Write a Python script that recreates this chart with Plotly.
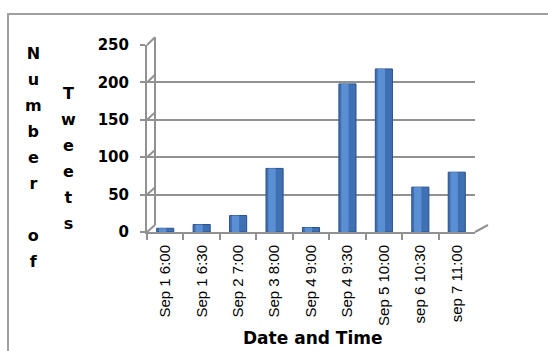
import plotly.graph_objects as go

categories = ["Sep 1 6:00", "Sep 1 6:30", "Sep 2 7:00", "Sep 3 8:00", "Sep 4 9:00",
              "Sep 4 9:30", "Sep 5 10:00", "sep 6 10:30", "sep 7 11:00"]
tweets = [5, 10, 22, 85, 6, 198, 218, 60, 80]
y_ticks = [0, 50, 100, 150, 200, 250]

W, H = 548, 351
def px(p):
    return p / W
def py(p):
    return 1 - p / H

GRID = "#919191"
fig = go.Figure()

fig.add_trace(go.Scatter(x=[None], y=[None], xaxis="x3", yaxis="y3",
                         showlegend=False, hoverinfo="skip"))
fig.add_trace(go.Scatter(x=categories, y=[None] * len(categories), xaxis="x", yaxis="y",
                         showlegend=False, hoverinfo="skip", mode="markers"))
fig.add_trace(go.Bar(x=categories, y=tweets, xaxis="x2", yaxis="y2",
                     marker=dict(color="#3f70b3", line=dict(color="#2b5089", width=1)),
                     width=0.47, showlegend=False))
fig.add_trace(go.Bar(x=categories, y=tweets, xaxis="x2", yaxis="y2",
                     marker=dict(color="#5b8fd3", line=dict(width=0)),
                     width=0.2, offset=-0.17, showlegend=False))

front_x = [147, 475]
front_y = [232, 45]
back_x = [155, 488]
back_y = [225, 37.3]

fig.update_layout(
    width=W, height=H,
    margin=dict(l=0, r=0, t=0, b=0, autoexpand=False),
    barmode="overlay",
    paper_bgcolor="white", plot_bgcolor="rgba(0,0,0,0)",
    xaxis=dict(domain=[px(front_x[0]), px(front_x[1])], type="category",
               range=[-0.5, 8.5], tickangle=-90, ticks="outside", ticklen=6,
               tickcolor=GRID, tickwidth=2, tickson="boundaries", automargin=False,
               showline=True, linecolor=GRID, linewidth=2, showgrid=False,
               tickfont=dict(family="Liberation Sans", size=15, color="black"),
               ticklabelstandoff=5, anchor="y"),
    yaxis=dict(domain=[py(front_y[0]), py(front_y[1])], range=[0, 250],
               tickvals=y_ticks, ticks="outside", ticklen=5, tickcolor=GRID, tickwidth=2,
               showline=True, linecolor=GRID, linewidth=2, showgrid=False, zeroline=False,
               tickfont=dict(family="DejaVu Sans", size=15, color="black", weight="bold"),
               ticklabelstandoff=8, anchor="x", automargin=False),
    xaxis2=dict(domain=[px(158), px(480)], type="category", range=[-0.5, 8.5],
                visible=False, overlaying="x", anchor="y2", automargin=False),
    yaxis2=dict(domain=[py(229), py(41.5)], range=[0, 250], visible=False,
                overlaying="y", anchor="x2", automargin=False),
    xaxis3=dict(domain=[px(back_x[0]), px(back_x[1])], range=[0, 1], visible=False,
                overlaying="x", anchor="y3", automargin=False),
    yaxis3=dict(domain=[py(back_y[0]), py(back_y[1])], range=[0, 250], tickvals=y_ticks,
                showgrid=True, gridcolor=GRID, gridwidth=2, showticklabels=False,
                ticks="", showline=True, linecolor=GRID, linewidth=2, zeroline=False,
                overlaying="y", anchor="x3", automargin=False),
)

shapes = []
shapes.append(dict(type="rect", xref="paper", yref="paper", x0=px(8), x1=1.05,
                   y0=-0.05, y1=py(14), line=dict(color="#a0a0a0", width=2)))
for v in y_ticks:
    yf = front_y[0] + (front_y[1] - front_y[0]) * v / 250
    yb = back_y[0] + (back_y[1] - back_y[0]) * v / 250
    shapes.append(dict(type="line", xref="paper", yref="paper",
                       x0=px(front_x[0]), y0=py(yf), x1=px(back_x[0]), y1=py(yb),
                       line=dict(color=GRID, width=2)))
shapes.append(dict(type="line", xref="paper", yref="paper",
                   x0=px(back_x[0]), y0=py(back_y[0]), x1=px(back_x[0]), y1=py(back_y[1]),
                   line=dict(color=GRID, width=2)))
shapes.append(dict(type="line", xref="paper", yref="paper",
                   x0=px(front_x[1]), y0=py(front_y[0]), x1=px(back_x[1]), y1=py(back_y[0]),
                   line=dict(color=GRID, width=2)))
fig.update_layout(shapes=shapes)

def stack(word):
    return "<br>".join('<span style="font-size:16px">%s</span>' % c for c in word)

fig.add_annotation(text=stack(["N", "u", "m", "b", "e", "r", "\u00a0", "o", "f"]),
                   xref="paper", yref="paper", x=px(33), y=py(157),
                   xanchor="center", yanchor="middle", showarrow=False,
                   font=dict(family="DejaVu Sans", size=20, color="black", weight="bold"))
fig.add_annotation(text=stack(["T", "w", "e", "e", "t", "s"]),
                   xref="paper", yref="paper", x=px(68), y=py(158),
                   xanchor="center", yanchor="middle", showarrow=False,
                   font=dict(family="DejaVu Sans", size=20, color="black", weight="bold"))
fig.add_annotation(text="Date and Time", xref="paper", yref="paper",
                   x=px(313), y=py(338), xanchor="center", yanchor="middle",
                   showarrow=False,
                   font=dict(family="DejaVu Sans", size=17, color="black", weight="bold"))

fig.write_html("out.html")
